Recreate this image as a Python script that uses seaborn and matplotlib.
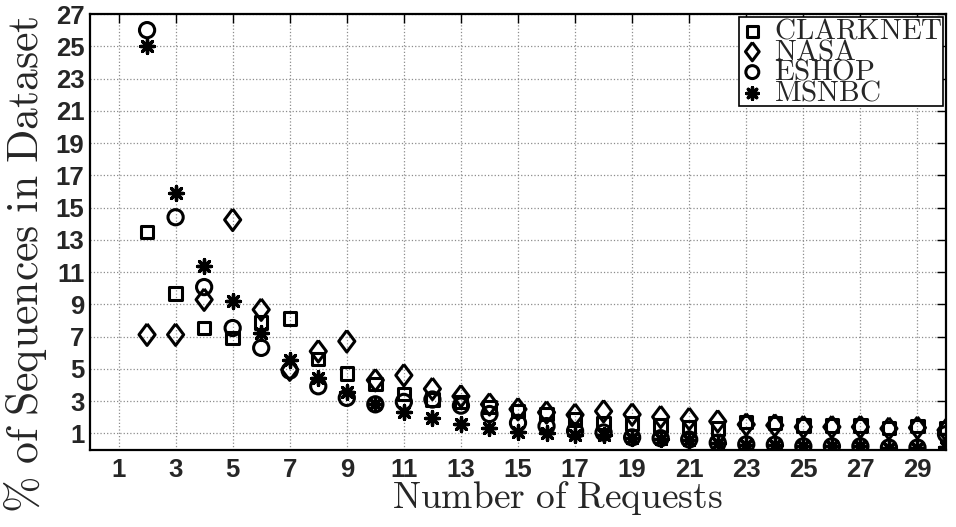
import numpy as np
import pandas as pd
import matplotlib
matplotlib.use("Agg")
import matplotlib.pyplot as plt
import seaborn as sns

# Share of sequences (%) by number of requests, per dataset
requests = list(range(2, 31))
clarknet = [13.48, 9.66, 7.53, 6.92, 7.88, 8.11, 5.61, 4.70, 4.05, 3.45,
            3.10, 2.95, 2.65, 2.40, 2.20, 1.85, 1.65, 1.60, 1.50, 1.40,
            1.30, 1.70, 1.65, 1.50, 1.50, 1.50, 1.35, 1.45, 1.35]
nasa = [7.12, 7.12, 9.29, 14.24, 8.67, 4.95, 6.09, 6.71, 4.30, 4.60,
        3.76, 3.30, 2.80, 2.50, 2.30, 2.15, 2.37, 2.17, 2.02, 1.90,
        1.75, 1.55, 1.50, 1.40, 1.40, 1.40, 1.30, 1.35, 1.20]
eshop = [26.0, 14.4, 10.07, 7.53, 6.30, 4.89, 3.92, 3.20, 2.80, 2.95,
         3.10, 2.72, 2.20, 1.65, 1.45, 1.15, 1.05, 0.75, 0.70, 0.62,
         0.42, 0.32, 0.30, 0.20, 0.20, 0.20, 0.12, 0.12, 0.95]
msnbc = [25.0, 15.9, 11.4, 9.18, 7.22, 5.57, 4.44, 3.55, 2.80, 2.30,
         1.95, 1.61, 1.34, 1.10, 1.05, 0.90, 0.88, 0.72, 0.68, 0.60,
         0.40, 0.30, 0.30, 0.20, 0.20, 0.20, 0.10, 0.10, 0.15]

series_names = ["CLARKNET", "NASA", "ESHOP", "MSNBC"]
series_values = [clarknet, nasa, eshop, msnbc]

xticks = list(range(1, 30, 2))
yticks = list(range(1, 28, 2))

df = pd.DataFrame({
    "requests": np.tile(requests, len(series_names)),
    "percent": np.concatenate(series_values),
    "dataset": np.repeat(series_names, len(requests)),
})

sns.set_theme(style="white")
plt.rcParams["mathtext.fontset"] = "cm"
plt.rcParams["font.family"] = ["Liberation Sans", "DejaVu Sans"]

# Diamond a bit taller than wide
diamond = [(0, 1), (0.75, 0), (0, -1), (-0.75, 0), (0, 1)]
markers = {
    "CLARKNET": ("s", 80),
    "NASA": (diamond, 240),
    "ESHOP": ("o", 120),
    "MSNBC": ((8, 2, 0), 100),
}

fig = plt.figure(figsize=(9.56, 5.27), dpi=100)
ax = fig.add_axes([90 / 956, 1 - 449.5 / 527, 856 / 956, (449.5 - 14) / 527])

for name in series_names:
    sub = df[df["dataset"] == name]
    m, s = markers[name]
    label = r"$\mathrm{" + name + "}$"
    if name == "MSNBC":
        sns.scatterplot(data=sub, x="requests", y="percent", marker=m, s=s,
                        color="black", linewidth=2.4, ax=ax, label=label,
                        zorder=3)
    else:
        sns.scatterplot(data=sub, x="requests", y="percent", marker=m, s=s,
                        color="black", facecolor="none", edgecolor="black",
                        linewidth=2.2, ax=ax, label=label, zorder=3)

ax.set_xlim(0, 30)
ax.set_ylim(0, 27)
ax.set_xticks(xticks)
ax.set_yticks(yticks)
ax.set_xticklabels([str(t) for t in xticks], fontweight="bold", fontsize=18.5)
ax.set_yticklabels([str(t) for t in yticks], fontweight="bold", fontsize=18.5)
ax.tick_params(axis="both", direction="in", length=6.5, width=1,
               top=True, right=True, color="black")
ax.tick_params(axis="x", pad=6)
ax.tick_params(axis="y", pad=4)
ax.grid(True, linestyle=":", linewidth=0.9, color="0.55")
for sp in ax.spines.values():
    sp.set_color("black")
    sp.set_linewidth(1.6)

ax.set_xlabel(r"$\mathrm{Number\ of\ Requests}$", fontsize=27)
ax.set_ylabel(r"$\%\ \mathrm{of\ Sequences\ in\ Dataset}$", fontsize=31.5)
ax.xaxis.set_label_coords(0.546, -0.068)
ax.yaxis.set_label_coords(-0.048, 0.425)

leg = ax.legend(loc="upper right", fontsize=21, frameon=True, fancybox=False,
                borderaxespad=0.1, labelspacing=-0.26, handletextpad=0.3,
                handlelength=0.9, borderpad=0.0, markerscale=0.85)
leg.get_frame().set_edgecolor("black")
leg.get_frame().set_linewidth(1.2)
leg.get_frame().set_alpha(1)

fig.savefig("out.png", dpi=100)
